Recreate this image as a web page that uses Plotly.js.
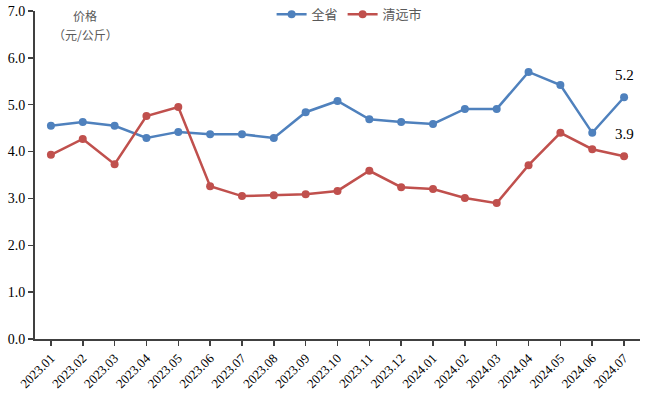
<!DOCTYPE html>
<html><head><meta charset="utf-8">
<script src="https://cdn.plot.ly/plotly-3.0.1.min.js"></script>
<style>body{margin:0;background:#fff}#c{width:650px;height:403px}</style>
</head><body><div id="c"></div>
<script>
const months = ["2023.01","2023.02","2023.03","2023.04","2023.05","2023.06","2023.07","2023.08","2023.09","2023.10","2023.11","2023.12","2024.01","2024.02","2024.03","2024.04","2024.05","2024.06","2024.07"];
const province = [4.55,4.63,4.55,4.29,4.42,4.37,4.37,4.29,4.84,5.08,4.69,4.63,4.59,4.91,4.91,5.70,5.42,4.40,5.16];
const qingyuan = [3.93,4.27,3.73,4.76,4.95,3.26,3.05,3.07,3.09,3.16,3.59,3.24,3.20,3.01,2.90,3.71,4.40,4.05,3.90];
const seriesNames = ["全省","清远市"];
const endLabels = ["5.2","3.9"];
const yTicks = [0,1,2,3,4,5,6,7];
const yTitle = ["价格","（元/公斤）"];

const serif = "'Times New Roman', 'Liberation Serif', serif";
const cjk = "'Noto Sans CJK SC', sans-serif";
const blue = "#4F81BD", red = "#C0504D";

const traces = [
  {x: months, y: province, name: seriesNames[0], type: "scatter", mode: "lines+markers",
   line: {color: blue, width: 2.5}, marker: {color: blue, size: 8}},
  {x: months, y: qingyuan, name: seriesNames[1], type: "scatter", mode: "lines+markers",
   line: {color: red, width: 2.5}, marker: {color: red, size: 8}}
];
const last = months.length - 1;
const layout = {
  width: 650, height: 403,
  margin: {l: 35, r: 10, t: 11, b: 64, autoexpand: false},
  paper_bgcolor: "#fff", plot_bgcolor: "#fff",
  showlegend: true,
  legend: {orientation: "h", x: 0.52, xanchor: "center", y: 0.99, yanchor: "middle",
           font: {family: cjk, size: 13, color: "#595959"}, bgcolor: "rgba(0,0,0,0)", traceorder: "normal"},
  xaxis: {type: "category", range: [-0.5, 18.5], showgrid: false, zeroline: false,
          showline: true, linecolor: "#404040", linewidth: 1.5,
          ticks: "outside", ticklen: 5, tickcolor: "#404040", tickwidth: 1.5,
          tickangle: -45, tickfont: {family: serif, size: 13, color: "#000"}},
  yaxis: {range: [0, 7], tickvals: yTicks, ticktext: yTicks.map(v => v.toFixed(1)),
          showgrid: false, zeroline: false, showline: true, linecolor: "#404040", linewidth: 2,
          ticks: "outside", ticklen: 5, tickcolor: "#404040", tickwidth: 1.5,
          tickfont: {family: serif, size: 14, color: "#000"}},
  annotations: [
    {xref: "paper", yref: "paper", x: 0.083, y: 1.0, xanchor: "center", yanchor: "middle", yshift: -4,
     text: yTitle[0], showarrow: false, font: {family: cjk, size: 12, color: "#595959"}},
    {xref: "paper", yref: "paper", x: 0.083, y: 1.0, xanchor: "center", yanchor: "middle", yshift: -23,
     text: yTitle[1], showarrow: false, font: {family: cjk, size: 12, color: "#595959"}},
    {x: last, y: province[last], text: endLabels[0], showarrow: false, yshift: 22,
     font: {family: serif, size: 15, color: "#000"}},
    {x: last, y: qingyuan[last], text: endLabels[1], showarrow: false, yshift: 22,
     font: {family: serif, size: 15, color: "#000"}}
  ]
};
Plotly.newPlot("c", traces, layout, {displayModeBar: false, staticPlot: true});
</script></body></html>
